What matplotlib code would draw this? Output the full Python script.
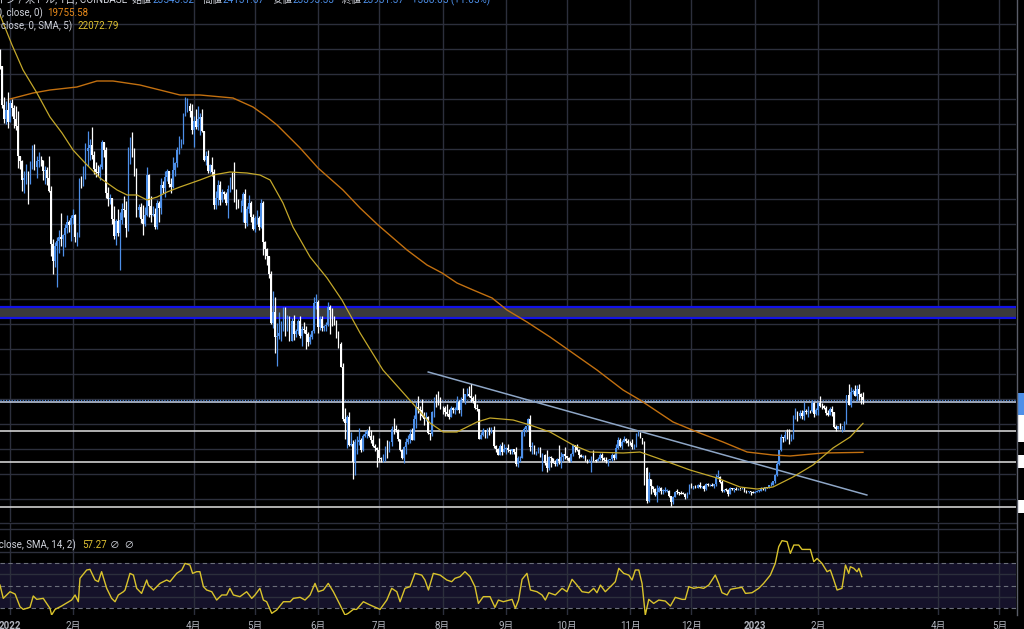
import numpy as np
import pandas as pd
import matplotlib
matplotlib.use("Agg")
import matplotlib.pyplot as plt
import matplotlib.dates as mdates
import matplotlib.transforms as mtrans
from matplotlib.patches import Rectangle
from matplotlib.lines import Line2D

# ---------------- data ----------------
start_date = "2021-12-27"
first_open = 50800

closes = [
    # 2021-12 (27-31)
    50700, 47540, 46460, 47120, 46210,
    # 2022-01
    47730, 47310, 46440, 45830, 43430, 43080, 41550, 41680, 41860, 41820, 42740, 43920, 42590, 43100, 43180, 43110,
    42250, 42380, 41680, 40690, 36460, 35060, 36280, 36680, 36960, 36840, 37140, 37730, 38160, 37920, 38480,
    # 2022-02
    38740, 36950, 37150, 41570, 41410, 42410, 43850, 44080, 44370, 43550, 42400, 42200, 42090, 42580, 44580, 43960,
    40540, 40000, 40120, 38430, 37070, 38290, 37300, 38340, 39220, 39110, 37700, 43190,
    # 2022-03
    44420, 43940, 42460, 39150, 39400, 38420, 37990, 38730, 41940, 39440, 38730, 38810, 37790, 39670, 39280, 41110,
    40920, 41770, 42250, 41260, 41000, 42370, 42890, 43960, 44350, 44520, 46820, 47130, 47460, 47060, 45530,
    # 2022-04
    46280, 45810, 46410, 46620, 45500, 43170, 43440, 42250, 42750, 42160, 39530, 40070, 41150, 39940, 40550, 40390,
    39690, 40800, 41500, 41360, 40480, 39710, 39450, 39450, 40430, 38110, 39240, 39740, 38600, 37640,
    # 2022-05
    38470, 38530, 37750, 39690, 36550, 36010, 35470, 34060, 30090, 31020, 28990, 29030, 29280, 29850, 31310, 29860,
    30420, 28700, 30300, 29190, 29430, 30280, 29100, 29650, 29540, 29200, 28620, 29020, 29450, 31730, 31790,
    # 2022-06
    29800, 30450, 29700, 29860, 29910, 31370, 31130, 30200, 30100, 29090, 28390, 26580, 22450, 22130, 22580, 20380,
    20460, 19000, 20560, 20570, 20730, 19970, 21100, 21230, 21490, 21030, 20730, 20280, 20110, 19930,
    # 2022-07
    19280, 19240, 19310, 20220, 20170, 20550, 21620, 21590, 21580, 20840, 19960, 19320, 20220, 20590, 20830, 21190,
    20780, 22430, 23390, 23230, 23160, 22680, 22450, 22580, 21310, 21250, 22950, 23850, 23780, 23650, 23300,
    # 2022-08
    23270, 22980, 22820, 22620, 23310, 23160, 23170, 23810, 23150, 23950, 23940, 24400, 24440, 24300, 24100, 23850,
    23340, 23190, 20830, 21140, 21520, 21400, 21530, 21370, 21560, 20240, 20040, 19550, 20290, 19810, 20050,
    # 2022-09
    20130, 19950, 19830, 19990, 19790, 18790, 19290, 19320, 21360, 21650, 21830, 22400, 20180, 20240, 19700, 19800,
    20110, 19420, 19540, 18880, 18480, 19400, 19300, 18920, 18800, 19230, 19080, 19420, 19590, 19430,
    # 2022-10
    19310, 19060, 19630, 20340, 20160, 19960, 19530, 19420, 19450, 19130, 19060, 19160, 19380, 19180, 19070, 19260,
    19550, 19330, 19130, 19040, 19170, 19210, 19570, 19330, 20090, 20770, 20290, 20600, 20820, 20630, 20490,
    # 2022-11
    20480, 20160, 20210, 21150, 21300, 20920, 20600, 18540, 15880, 17590, 17040, 16800, 16330, 16620, 16900, 16660,
    16690, 16700, 16700, 16280, 15780, 16200, 16610, 16600, 16520, 16460, 16440, 16220, 16440, 17170,
    # 2022-12
    16980, 17100, 16890, 17110, 16970, 17090, 16840, 17230, 17130, 17130, 17090, 17210, 17780, 17810, 17360, 16630,
    16780, 16740, 16440, 16900, 16820, 16830, 16780, 16840, 16830, 16920, 16700, 16550, 16630, 16600, 16540,
    # 2023-01
    16620, 16680, 16680, 16850, 16830, 16950, 16940, 17120, 17180, 17440, 17940, 18850, 19930, 20950, 20870, 21180,
    21130, 20680, 21070, 22670, 22780, 22700, 22920, 22630, 23060, 23010, 23080, 23030, 23740, 22830, 23130,
    # 2023-02 (1-23)
    23730, 23490, 23430, 23330, 22930, 22760, 23250, 22960, 21800, 21630, 21860, 21780, 21780, 22200, 24330, 23520,
    24570, 24630, 24280, 24830, 24450, 24190, 23930,
]

highs = [
    52060, 50700, 48150, 47900, 48550,
    47950, 47990, 47560, 47500, 47070, 43450, 43140, 42300, 42800, 42250, 43100, 44350, 44460, 43450, 43780, 43480,
    43180, 42700, 42580, 43500, 41100, 36850, 36570, 37000, 37550, 38900, 37230, 38000, 38730, 38360, 38740,
    39260, 38850, 37380, 41700, 41900, 42640, 44500, 45490, 44800, 45820, 43900, 43000, 42750, 42840, 44750, 44580,
    44180, 40970, 40450, 40140, 39450, 38430, 39250, 38990, 39700, 40300, 39880, 44220,
    44950, 45400, 44100, 42530, 39620, 39700, 39550, 39400, 42600, 42040, 40280, 39480, 39300, 39920, 39850, 41700,
    41470, 42300, 42400, 42300, 41740, 43350, 43000, 44180, 45100, 44800, 46900, 48200, 48100, 47700, 47600,
    46700, 47200, 47440, 46880, 47200, 45500, 43900, 43970, 42800, 43420, 42420, 40700, 41550, 41500, 40860, 40700,
    40620, 41120, 41750, 42200, 42960, 40800, 39990, 39910, 40620, 40800, 39470, 40380, 39900, 38800,
    38700, 39170, 38650, 40000, 39850, 36650, 36130, 35500, 34250, 32650, 32170, 30100, 31000, 30300, 31400, 31400,
    30750, 30650, 30500, 30750, 29600, 30450, 30650, 29840, 30180, 29870, 29380, 29230, 29550, 32200, 32400,
    31970, 30650, 30650, 29950, 30170, 31750, 31560, 31330, 30690, 30350, 29450, 28560, 26880, 23320, 22750, 22960,
    21350, 20770, 20800, 21050, 21700, 20880, 21200, 21450, 21600, 21850, 21520, 21180, 20400, 20150,
    20870, 19400, 19650, 20300, 20720, 20650, 21830, 22500, 21950, 21600, 20860, 20050, 20250, 20880, 21180, 21600,
    21680, 22720, 23780, 24280, 23430, 24000, 22960, 23010, 22650, 21340, 23080, 24200, 24420, 24650, 24150,
    23450, 23450, 23630, 23200, 23450, 23350, 23400, 24230, 23920, 24200, 24900, 24450, 24880, 25050, 25200, 24250,
    24450, 23600, 23200, 21350, 21680, 21520, 21670, 21820, 21800, 21880, 20370, 20140, 20400, 20580, 20450,
    20200, 20440, 20000, 20000, 20030, 20150, 19450, 19450, 21500, 21750, 21850, 22500, 22750, 20550, 20350, 19900,
    20180, 20150, 19680, 19620, 19950, 19500, 19480, 19300, 19180, 19300, 20350, 19750, 19650, 20150,
    19480, 19400, 19700, 20450, 20350, 20450, 20050, 19620, 19550, 19520, 19250, 19220, 19500, 19950, 19230, 19400,
    19670, 19700, 19350, 19350, 19250, 19260, 19690, 19600, 20400, 21020, 20870, 20750, 21080, 20930, 20840,
    20700, 20800, 20400, 21300, 21470, 21370, 20900, 20670, 18600, 18150, 17650, 17050, 16900, 17180, 17100, 16950,
    16800, 16990, 16800, 16750, 16300, 16280, 16700, 16800, 16620, 16690, 16600, 16480, 16550, 17250,
    17320, 17100, 17150, 17200, 17420, 17100, 17130, 17290, 17300, 17220, 17270, 17240, 18000, 18380, 17850, 17530,
    16800, 16870, 16820, 17000, 16900, 16860, 16950, 16870, 16860, 16940, 16960, 16770, 16660, 16640, 16640,
    16630, 16760, 16770, 16990, 16880, 16990, 16980, 17180, 17390, 17480, 17990, 19100, 19980, 21250, 21000, 21450,
    21650, 21600, 21200, 22750, 23300, 23050, 23150, 23150, 23800, 23250, 23450, 23160, 23950, 23780, 23300,
    23800, 24250, 23700, 23580, 23430, 23150, 23350, 23450, 22990, 21940, 21900, 22080, 21880, 22300, 24350, 25250,
    25000, 24850, 25180, 25120, 25250, 24470, 24600,
]

lows = [
    50450, 47320, 46100, 46000, 45680,
    46200, 46650, 45700, 45520, 42500, 42430, 40670, 40500, 41230, 39650, 41260, 42450, 42320, 41730, 42590, 42690,
    41550, 41250, 41140, 40600, 35450, 34020, 34610, 32950, 35700, 36270, 35500, 36180, 37300, 37360, 36630,
    38000, 36590, 36250, 36950, 40900, 41100, 41650, 42700, 43150, 43200, 42030, 41750, 41880, 41570, 42440, 43350,
    40100, 39450, 39650, 38010, 36800, 36350, 37060, 34320, 38020, 38600, 37000, 37450,
    42850, 43350, 41860, 38600, 38600, 38100, 37150, 37880, 38650, 38550, 38220, 38650, 37600, 37590, 38150, 38850,
    40520, 40150, 41500, 40950, 40500, 40900, 41850, 42600, 43600, 44100, 44450, 46660, 46950, 46600, 45200,
    44220, 45650, 45550, 45120, 45370, 43100, 42730, 42120, 42130, 41870, 39210, 39250, 39560, 39570, 39770, 40000,
    39560, 38540, 40560, 40850, 39760, 39190, 39300, 38950, 38200, 37700, 37880, 38880, 38190, 37580,
    37400, 38050, 37520, 37700, 35580, 35250, 34780, 33710, 30050, 29740, 27700, 26700, 28800, 28650, 29500, 29080,
    29450, 28650, 28680, 28730, 28950, 29240, 28880, 28300, 29300, 28020, 28260, 28460, 28830, 29310, 31200,
    29300, 29580, 29500, 29470, 29500, 29880, 29250, 29860, 29980, 28870, 28110, 26560, 22300, 20820, 20100, 20250,
    20300, 17620, 17950, 19650, 20360, 19800, 19900, 20970, 20900, 21000, 20500, 20200, 19850, 18620,
    19000, 19000, 18950, 19050, 19300, 19800, 20250, 21200, 21350, 20650, 19880, 19220, 18900, 19650, 20400, 20500,
    20760, 20770, 21700, 22900, 22350, 22550, 21950, 22280, 21250, 20720, 21050, 22610, 23420, 23550, 23250,
    22850, 22680, 22680, 22450, 22600, 22930, 22850, 23150, 22880, 22670, 23900, 23600, 24300, 24200, 23800, 23700,
    23200, 23100, 20800, 20800, 21050, 20900, 20900, 21150, 21320, 20130, 19800, 19550, 19550, 19550, 19800,
    19600, 19760, 19660, 19600, 19650, 18650, 18550, 19000, 19300, 21100, 21350, 21550, 19900, 19650, 19600, 19520,
    19690, 19350, 18300, 18750, 18150, 18380, 18620, 18900, 18650, 18700, 18850, 18500, 19100, 19200,
    19180, 18950, 19000, 19500, 19750, 19880, 19330, 19370, 19330, 19030, 18870, 18980, 18190, 19070, 18980, 19060,
    19160, 19100, 19070, 18900, 18660, 19130, 19080, 19180, 19240, 20060, 20220, 20010, 20560, 20510, 20250,
    20350, 20050, 20050, 20180, 21080, 20880, 20400, 17170, 15680, 15750, 16400, 16550, 16250, 15810, 16550, 16400,
    16440, 16600, 16550, 16180, 15480, 15620, 16180, 16460, 16360, 16420, 16400, 15990, 16100, 16430,
    16880, 16800, 16880, 16880, 16900, 16910, 16690, 16750, 17080, 17100, 17070, 16880, 17080, 17670, 17280, 16600,
    16580, 16680, 16280, 16400, 16760, 16560, 16760, 16780, 16740, 16790, 16600, 16470, 16490, 16340, 16480,
    16500, 16550, 16600, 16660, 16750, 16700, 16900, 16910, 17100, 17140, 17320, 17900, 18720, 19890, 20570, 20650,
    20850, 20400, 20650, 20850, 22400, 22300, 22520, 22450, 22320, 22850, 22550, 22890, 23000, 22550, 22720,
    22780, 23380, 23250, 23250, 22770, 22630, 22750, 22700, 21700, 21470, 21600, 21630, 21380, 21550, 22050, 23520,
    23350, 24450, 24280, 23870, 23950, 23590, 23620,
]

# Moving averages (day offset from 2022-01-01, price)
sma50_day = [-4.9, 1.0, 6.4, 13.2, 19.6, 25.5, 30.9, 36.8, 44.1, 52.5,
             57.4, 62.3, 67.2, 72.1, 77.0, 83.3, 93.1, 99.5, 107.8, 116.2,
             122.5, 127.5, 133.8, 138.7, 147.1, 155.4, 162.7, 171.6, 182.8, 194.6,
             205.9, 212.3, 219.1, 228.9, 235.3, 246.6, 254.9, 264.7, 276.0, 284.3,
             300.5, 308.8, 317.2, 333.3, 346.6, 357.8, 366.2, 374.0, 383.8, 393.6,
             403.4, 411.8, 418.1]
sma50_val = [54744, 52344, 50344, 48504, 46584, 45304, 43944, 42904, 41704, 40744,
             40344, 40344, 39944, 40184, 40584, 40984, 41544, 41944, 42184, 42104,
             41944, 41544, 39704, 37784, 35384, 33704, 31944, 29304, 26344, 24184,
             22104, 21384, 21384, 22184, 22504, 22344, 21944, 21384, 20344, 19784,
             19704, 19784, 19304, 18344, 17704, 16984, 16824, 16984, 17784, 18744,
             20104, 20984, 22073]
sma200_day = [0.0, 11.3, 19.6, 32.8, 42.6, 50.5, 63.7, 83.3, 93.1, 109.3,
              119.1, 126.0, 130.9, 142.2, 151.0, 163.2, 171.6, 180.4, 194.6, 204.4,
              211.8, 219.1, 227.0, 236.3, 243.6, 253.4, 264.7, 287.7, 300.5, 308.8,
              325.0, 336.8, 349.5, 361.3, 374.0, 382.4, 398.5, 418.1]
sma200_val = [48024, 48504, 48744, 48984, 49464, 49464, 49144, 48344, 48344, 48104,
              47384, 46584, 45944, 44104, 42504, 40744, 39304, 37944, 35944, 34744,
              34104, 33304, 32744, 32104, 31144, 30184, 28984, 26344, 24744, 23944,
              22184, 21384, 20584, 19784, 19544, 19464, 19704, 19756]

# RSI (day offset from 2022-01-01, value)
rsi_day = [-4.9, -3.3, 0.0, 2.5, 4.9, 6.5, 9.8, 11.4, 13.1, 16.3,
           19.6, 20.4, 22.1, 25.3, 30.2, 31.9, 33.5, 34.3, 37.6, 39.2,
           41.7, 43.3, 44.9, 47.4, 49.8, 51.5, 53.1, 55.6, 56.4, 58.8,
           60.5, 62.1, 64.5, 67.0, 67.8, 70.3, 71.9, 73.5, 76.8, 78.4,
           81.7, 84.2, 85.8, 88.2, 89.5, 91.5, 93.1, 94.8, 96.4, 98.9,
           101.3, 103.8, 106.2, 107.8, 109.5, 112.7, 116.0, 118.5, 120.1, 122.5,
           124.2, 125.8, 128.3, 130.7, 134.0, 137.3, 138.9, 142.2, 144.6, 147.1,
           149.5, 151.1, 153.6, 156.0, 158.5, 161.8, 164.2, 165.8, 168.3, 169.9,
           173.2, 176.5, 181.4, 184.7, 187.1, 189.6, 191.2, 193.6, 196.1, 198.5,
           201.8, 203.4, 205.1, 207.5, 210.8, 214.1, 216.5, 218.1, 220.6, 223.0,
           225.5, 227.9, 229.6, 232.0, 235.3, 237.7, 239.4, 241.8, 246.1, 247.7,
           249.3, 251.0, 253.4, 255.1, 258.3, 260.8, 262.4, 264.1, 267.3, 270.6,
           273.0, 275.5, 277.9, 280.4, 283.7, 286.1, 287.7, 289.4, 291.8, 295.1,
           296.7, 298.4, 300.8, 303.3, 304.9, 306.5, 308.2, 309.8, 311.4, 313.1,
           315.5, 318.0, 321.2, 323.7, 326.1, 329.4, 331.0, 332.7, 335.1, 337.6,
           340.0, 342.5, 345.7, 347.4, 349.0, 351.5, 353.1, 355.6, 358.8, 360.5,
           363.7, 367.0, 369.4, 372.7, 375.1, 376.8, 378.4, 380.9, 382.5, 384.2,
           386.6, 388.2, 392.3, 394.0, 395.6, 398.0, 400.5, 402.1, 403.8, 405.4,
           407.8, 408.7, 409.5, 411.1, 411.9, 413.6, 415.2, 416.1, 417.5]
rsi_value = [50.4, 38.6, 44.5, 42.4, 31.2, 28.8, 30.6, 40.7, 37.7, 38.6,
             29.7, 23.8, 28.8, 31.8, 37.1, 41.6, 35.6, 56.4, 63.8, 64.4,
             54.9, 53.4, 62.3, 47.5, 38.6, 35.6, 41.6, 44.5, 46.0, 60.8,
             59.3, 47.5, 43.0, 54.9, 50.4, 46.0, 49.0, 51.9, 54.9, 53.4,
             60.8, 63.8, 69.7, 68.2, 60.8, 62.3, 62.3, 49.0, 46.0, 44.5,
             37.1, 41.6, 41.6, 47.5, 41.6, 40.1, 44.5, 38.6, 41.6, 47.5,
             37.1, 35.6, 25.3, 28.2, 35.6, 35.6, 38.6, 39.5, 37.1, 41.6,
             51.9, 44.5, 46.0, 51.9, 44.5, 32.7, 23.8, 25.3, 28.8, 28.8,
             35.6, 32.7, 28.8, 37.1, 47.5, 44.5, 35.6, 47.5, 49.0, 60.8,
             59.3, 54.9, 46.0, 60.8, 59.3, 54.9, 53.4, 56.4, 57.9, 62.3,
             57.9, 49.0, 34.1, 40.1, 40.1, 30.6, 37.1, 35.6, 37.7, 29.7,
             37.1, 55.5, 60.8, 46.0, 44.5, 41.6, 37.1, 43.6, 41.6, 47.5,
             44.5, 55.5, 50.4, 44.5, 43.6, 47.5, 43.6, 50.4, 44.5, 50.4,
             53.4, 65.3, 60.8, 59.3, 54.9, 63.8, 63.8, 51.9, 23.8, 37.7,
             34.1, 37.1, 36.2, 31.8, 39.5, 37.7, 37.7, 49.0, 47.5, 48.4,
             47.5, 50.4, 59.3, 51.9, 43.6, 41.6, 46.6, 47.5, 48.4, 43.0,
             43.6, 47.5, 51.9, 59.3, 69.7, 84.5, 89.9, 89.0, 78.6, 86.0,
             86.0, 82.1, 82.1, 71.2, 74.1, 69.7, 62.3, 63.8, 54.9, 46.0,
             47.5, 57.9, 68.2, 60.8, 66.7, 65.3, 62.3, 65.3, 57.9]

# Drawn levels
zone_levels = [30500, 31400]
white_levels = [23800, 21450, 19000, 15400]
trend_dates = ["2022-07-25", "2023-02-25"]
trend_prices = [26184, 16344]

month_ticks = ["2022-01-01", "2022-02-01", "2022-04-01", "2022-05-01", "2022-06-01", "2022-07-01",
               "2022-08-01", "2022-09-01", "2022-10-01", "2022-11-01", "2022-12-01", "2023-01-01",
               "2023-02-01", "2023-04-01", "2023-05-01"]
month_labels = ["2022", "2月", "4月", "5月", "6月", "7月", "8月", "9月", "10月", "11月", "12月",
                "2023", "2月", "4月", "5月"]

header_title = "ビットコイン / 米ドル, 1日, COINBASE"
header_items = [("始値", "23543.32"), ("高値", "24131.67"), ("安値", "23393.33"), ("終値", "23931.37")]
header_change = "+388.05 (+1.65%)"

# axis price-label boxes (cropped price scale): (low, high, colour)
axis_boxes = [(22744, 24504, "#4d8fe8"), (20584, 22744, "#ffffff"),
              (18504, 19544, "#ffffff"), (14904, 15944, "#ffffff")]

assert len(closes) == len(highs) == len(lows)
assert len(rsi_day) == len(rsi_value)
assert len(sma50_day) == len(sma50_val) and len(sma200_day) == len(sma200_val)

# ---------------- style ----------------
FAM = ["Roboto", "Noto Sans CJK JP", "DejaVu Sans"]
plt.rcParams["font.family"] = FAM
BG = "black"
GRID = "#2c2f3c"
TXT = "#d1d4dc"
UP = "#4d8fe8"
DOWN = "#ffffff"
YEL = "#c4a82a"
ORG = "#c27010"
RSI_C = "#d9c32c"

W, H = 1024, 629
fig = plt.figure(figsize=(W / 100, H / 100), dpi=100, facecolor=BG)
ax = fig.add_axes([0, 1 - 522 / H, 1016 / W, 522 / H])
axr = fig.add_axes([0, 1 - 615 / H, 1016 / W, 91 / H], sharex=ax)
for a in (ax, axr):
    a.set_facecolor(BG)
    for s in a.spines.values():
        s.set_visible(False)
    a.set_axisbelow(True)

base = mdates.date2num(pd.Timestamp("2022-01-01"))
dates = pd.date_range(start_date, periods=len(closes), freq="D")
x = mdates.date2num(dates)
c = np.array(closes, float)
o = np.array([first_open] + closes[:-1], float)
h = np.maximum(np.array(highs, float), np.maximum(o, c))
l = np.minimum(np.array(lows, float), np.minimum(o, c))
up = c >= o
cols = np.where(up, UP, DOWN)

ax.set_xlim(base - 4.90, base + 493.1)
ax.set_ylim(14184, 55944)

# grid
tick_x = mdates.date2num(pd.to_datetime(month_ticks))
ax.set_xticks(tick_x)
ax.set_yticks(np.arange(16000, 56000, 2000))
ax.grid(True, color=GRID, lw=1.0)
ax.tick_params(left=False, bottom=False, labelleft=False, labelbottom=False)

# zone & levels
ax.axhspan(zone_levels[0], zone_levels[1], color="#3a3a3c", lw=0, zorder=1)
for lv in zone_levels:
    ax.axhline(lv, color="#1212e8", lw=1.6, zorder=2)
for i, lv in enumerate(white_levels):
    ax.axhline(lv, color="#b9c3d6" if i == 0 else "#cfcfcf", lw=1.2, zorder=2)
ax.axhline(c[-1], color=UP, lw=0.8, ls=(0, (1, 1.5)), zorder=2)

# trend line
tx = mdates.date2num(pd.to_datetime(trend_dates))
ax.plot(tx, trend_prices, color="#8ea6c6", lw=1.1, zorder=2)

# candles
body_lo = np.minimum(o, c)
body_h = np.maximum(np.abs(c - o), 50)
ax.vlines(x, l, h, colors=cols, lw=0.9, zorder=3)
ax.bar(x, body_h, bottom=body_lo, width=0.8, color=cols, lw=0, zorder=3)

# moving averages
ax.plot(base + np.array(sma200_day), sma200_val, color=ORG, lw=1.0, zorder=4)
ax.plot(base + np.array(sma50_day), sma50_val, color=YEL, lw=0.9, zorder=4)

# RSI pane
axr.set_ylim(23.8, 104.7)
axr.set_yticks([40, 60, 80, 100])
axr.grid(True, color=GRID, lw=1.0)
axr.axhspan(30, 70, color="#15122a", lw=0, zorder=0.5)
for lv in (30, 50, 70):
    axr.axhline(lv, color="#6b6e7a", lw=0.8, ls=(0, (4, 3)), zorder=1)
axr.plot(base + np.array(rsi_day), rsi_value, color=RSI_C, lw=1.0, zorder=3)
axr.set_xticks(tick_x)
axr.set_xticklabels(month_labels)
axr.tick_params(left=False, labelleft=False, bottom=False, pad=0.5,
                labelsize=7, labelcolor="#b2b5be")
for t in axr.get_xticklabels():
    if t.get_text() in ("2022", "2023"):
        t.set_fontweight("bold")
    t.set_family(FAM)

# pane separator and price-scale border
fig.add_artist(Line2D([0, 1016 / W], [1 - 523 / H] * 2, color="#2c2f3c", lw=1))
fig.add_artist(Line2D([1017 / W] * 2, [1 - 615 / H, 1], color="#5a5d68", lw=1))

# cropped price-axis label boxes
trans = mtrans.blended_transform_factory(fig.transFigure, ax.transData)
for lo_, hi_, col in axis_boxes:
    fig.add_artist(Rectangle((1018 / W, lo_), 6 / W, hi_ - lo_, transform=trans,
                             facecolor=col, edgecolor="none"))


def put(px, py, s, color, ha="left", va="center", size=7.0, weight="normal"):
    return fig.text(px / W, 1 - py / H, s, color=color, ha=ha, va=va, fontsize=size,
                    family=FAM, fontweight=weight)


# header (cropped at top in the original) – pieces chained by measured width
renderer = fig.canvas.get_renderer()
put(127, 3, header_title, TXT, ha="right", va="baseline", size=7.2)
cur = 132
pieces = []
for lab, val in header_items:
    pieces += [(lab, TXT, 1), (val, UP, 7)]
pieces.append((header_change, UP, 0))
for s, col, gap in pieces:
    t = put(cur, 3, s, col, va="baseline", size=7.2)
    cur += t.get_window_extent(renderer).width + gap

put(43, 13, "MA (200, close, 0)", TXT, ha="right")
put(47, 13, "19755.58", "#e88a1a")
put(72, 26, "MA (50, close, 0, SMA, 5)", TXT, ha="right")
put(78, 26, "22072.79", "#e0c232")
put(76, 545, "RSI (14, close, SMA, 14, 2)", TXT, ha="right")
put(82, 545, "57.27", "#e0c232")
put(110, 545, "∅  ∅", TXT)

fig.savefig("out.png", dpi=100, facecolor=BG)
